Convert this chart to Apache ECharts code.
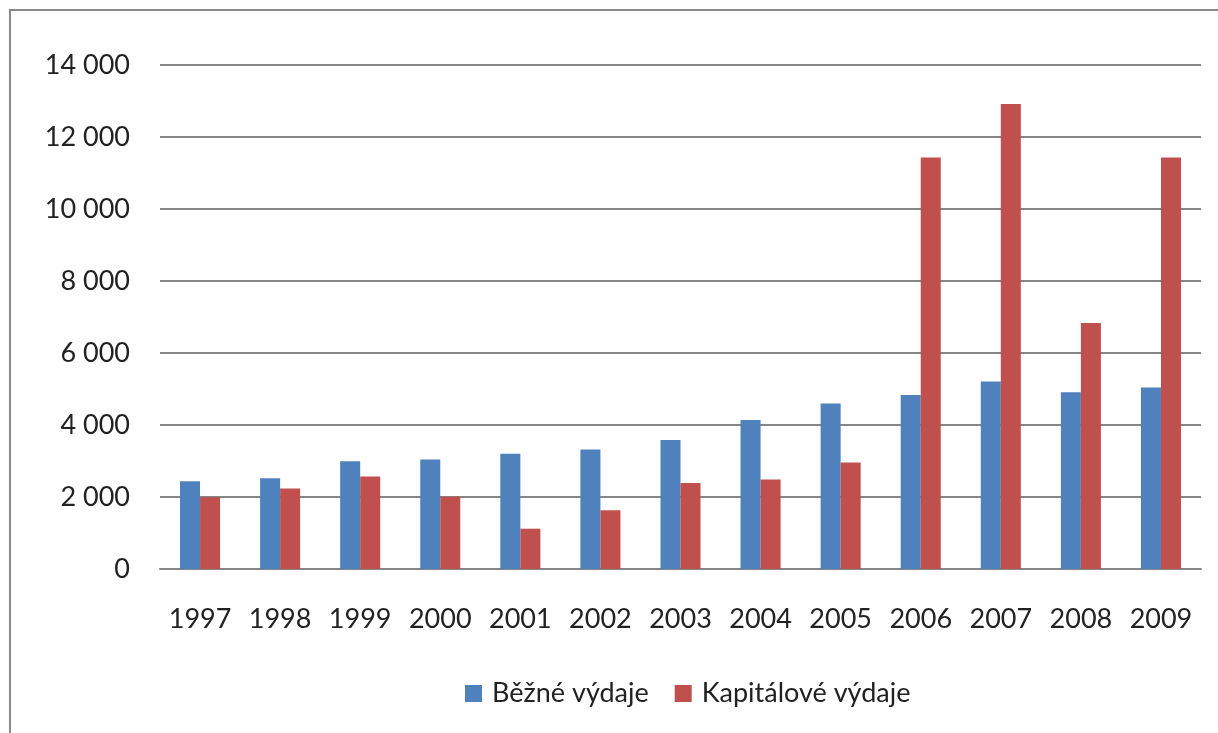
<!DOCTYPE html>
<html>
<head>
<meta charset="utf-8">
<script src="https://cdn.jsdelivr.net/npm/echarts@6/dist/echarts.min.js"></script>
<style>
  html, body { margin: 0; padding: 0; background: #fff; }
  #frame { position: absolute; left: 9px; top: 9px; width: 1220px; height: 740px; border: 2px solid #8a8a8a; box-sizing: border-box; }
  #chart { position: absolute; left: 0; top: 0; width: 1218px; height: 733px; }
</style>
</head>
<body>
<div id="frame"></div>
<div id="chart"></div>
<script>
// roky
var years = ["1997", "1998", "1999", "2000", "2001", "2002", "2003", "2004", "2005", "2006", "2007", "2008", "2009"];
// běžné výdaje
var bezne = [2440, 2520, 2990, 3040, 3200, 3320, 3580, 4140, 4600, 4830, 5210, 4910, 5040];
// kapitálové výdaje
var kapitalove = [1990, 2235, 2570, 2010, 1120, 1630, 2390, 2485, 2955, 11430, 12920, 6830, 11430];
var seriesNames = ["Běžné výdaje", "Kapitálové výdaje"];

var chart = echarts.init(document.getElementById("chart"));
var font = "Lato, 'Open Sans', sans-serif";

chart.setOption({
  animation: false,
  color: ["#4F81BD", "#C0504D"],
  textStyle: { fontFamily: font },
  grid: { left: 160, right: 17, top: 65, bottom: 164 },
  legend: {
    data: seriesNames,
    bottom: 21,
    left: 460,
    itemWidth: 17,
    itemHeight: 17,
    itemGap: 26,
    icon: "rect",
    textStyle: { fontSize: 27, color: "#222", fontFamily: font, padding: [0, 0, 0, 5] }
  },
  xAxis: {
    type: "category",
    data: years,
    axisLine: { lineStyle: { color: "#868686", width: 2 } },
    axisTick: { show: false },
    axisLabel: { fontSize: 27, color: "#222", margin: 37, interval: 0 }
  },
  yAxis: {
    type: "value",
    min: 0,
    max: 14000,
    interval: 2000,
    axisLine: { show: false },
    axisTick: { show: false },
    splitLine: { lineStyle: { color: "#868686", width: 2 } },
    axisLabel: {
      fontSize: 27,
      color: "#222",
      margin: 30,
      formatter: function (v) {
        return String(v).replace(/\B(?=(\d{3})+(?!\d))/g, " ");
      }
    }
  },
  series: [
    {
      name: seriesNames[0],
      type: "bar",
      data: bezne,
      barGap: "0%",
      barCategoryGap: "50%"
    },
    {
      name: seriesNames[1],
      type: "bar",
      data: kapitalove,
      barGap: "0%",
      barCategoryGap: "50%"
    }
  ]
});
</script>
</body>
</html>
